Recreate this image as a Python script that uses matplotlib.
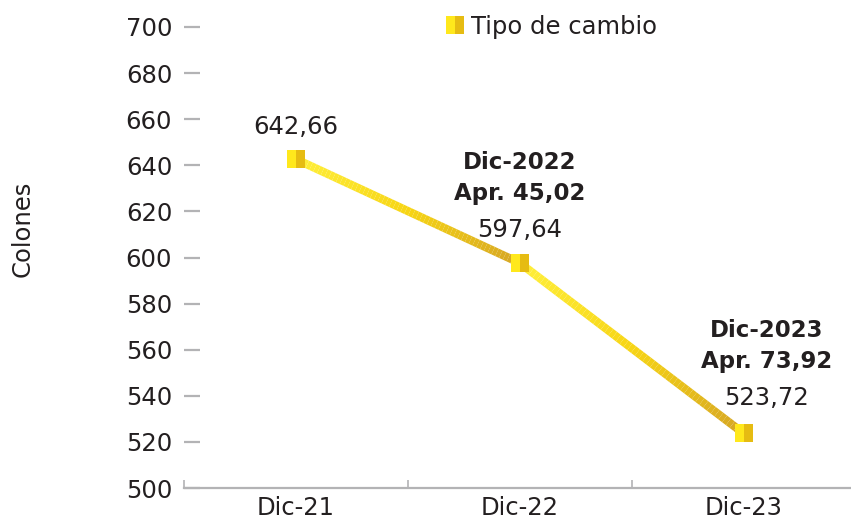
import numpy as np
import matplotlib.pyplot as plt
from matplotlib.collections import LineCollection
from matplotlib.colors import LinearSegmentedColormap

#==============================================================================
#                         Data
#==============================================================================
categories = ['Dic-21', 'Dic-22', 'Dic-23']
tipo_cambio = [642.66, 597.64, 523.72]
value_labels = ['642,66', '597,64', '523,72']
notes = ['', 'Dic-2022\nApr. 45,02', 'Dic-2023\nApr. 73,92']
y_ticks = list(range(500, 701, 20))

c_light = '#FFEF3A'
c_dark = '#D6A623'
c_text = '#231F20'
c_grey = '#B3B3B5'
fam = 'DejaVu Sans'
fs = 17.5
fs_b = 16.5

#==============================================================================
#                         Plotting
#==============================================================================
fig = plt.figure(figsize=(8.51, 5.21), dpi=100)
ax = fig.add_axes([0.2162, 0.0633, 0.7838, 0.8849])

x = np.arange(len(categories))
y = np.array(tipo_cambio)

# gradient line: each segment goes from light yellow to gold
cmap = LinearSegmentedColormap.from_list('oro', [c_light, '#F7D515', c_dark])
n = 60
for i in range(len(x) - 1):
    xs = np.linspace(x[i], x[i + 1], n)
    ys = np.linspace(y[i], y[i + 1], n)
    pts = np.array([xs, ys]).T.reshape(-1, 1, 2)
    segs = np.concatenate([pts[:-1], pts[1:]], axis=1)
    lc = LineCollection(segs, cmap=cmap, linewidths=6, capstyle='butt', zorder=2)
    lc.set_array(np.linspace(0, 1, n - 1))
    ax.add_collection(lc)

mk = dict(ls='none', marker='s', ms=12.5, fillstyle='left',
          markerfacecolor='#FFE81C', markerfacecoloralt='#E6BC12',
          markeredgewidth=0)
ax.plot(x, y, zorder=3, **mk)

# legend proxy
ax.plot([], [], label='Tipo de cambio', **mk)
leg = ax.legend(loc='center', bbox_to_anchor=(0.552, 1.0), frameon=False,
                handlelength=0.6, handletextpad=0.35, borderaxespad=0,
                prop={'family': fam, 'size': fs})
for t in leg.get_texts():
    t.set_color(c_text)

# value labels
offs = [(0, 32), (0, 33), (23, 35)]
for i in range(len(x)):
    ax.annotate(value_labels[i], (x[i], y[i]), xytext=offs[i],
                textcoords='offset pixels', ha='center', va='center',
                fontsize=fs, family=fam, color=c_text)
    if notes[i]:
        ax.annotate(notes[i], (x[i], y[i]), xytext=(offs[i][0], offs[i][1] + 52),
                    textcoords='offset pixels', ha='center', va='center',
                    fontsize=fs_b, family=fam, fontweight='bold', color=c_text,
                    linespacing=1.45)

ax.set_xlim(-0.5, 2.48)
ax.set_ylim(500, 700)
ax.set_yticks(y_ticks)
ax.set_xticks(x)
ax.set_xticklabels(categories)
ax.set_xticks([-0.5, 0.5, 1.5], minor=True)

for s in ['left', 'top', 'right']:
    ax.spines[s].set_visible(False)
ax.spines['bottom'].set_color(c_grey)
ax.spines['bottom'].set_linewidth(1.6)

ax.tick_params(axis='y', direction='in', length=11.5, width=1.6, color=c_grey,
               pad=8.5, labelsize=fs, labelcolor=c_text)
ax.tick_params(axis='x', which='major', length=0, pad=6, labelsize=fs, labelcolor=c_text)
ax.tick_params(axis='x', which='minor', direction='in', length=6, width=1.2, color=c_grey)
for lab in ax.get_xticklabels() + ax.get_yticklabels():
    lab.set_family(fam)

fig.text(0.026, 0.56, 'Colones', rotation=90, ha='center', va='center',
         fontsize=fs, family=fam, color=c_text)

plt.savefig('out.png', dpi=100)
